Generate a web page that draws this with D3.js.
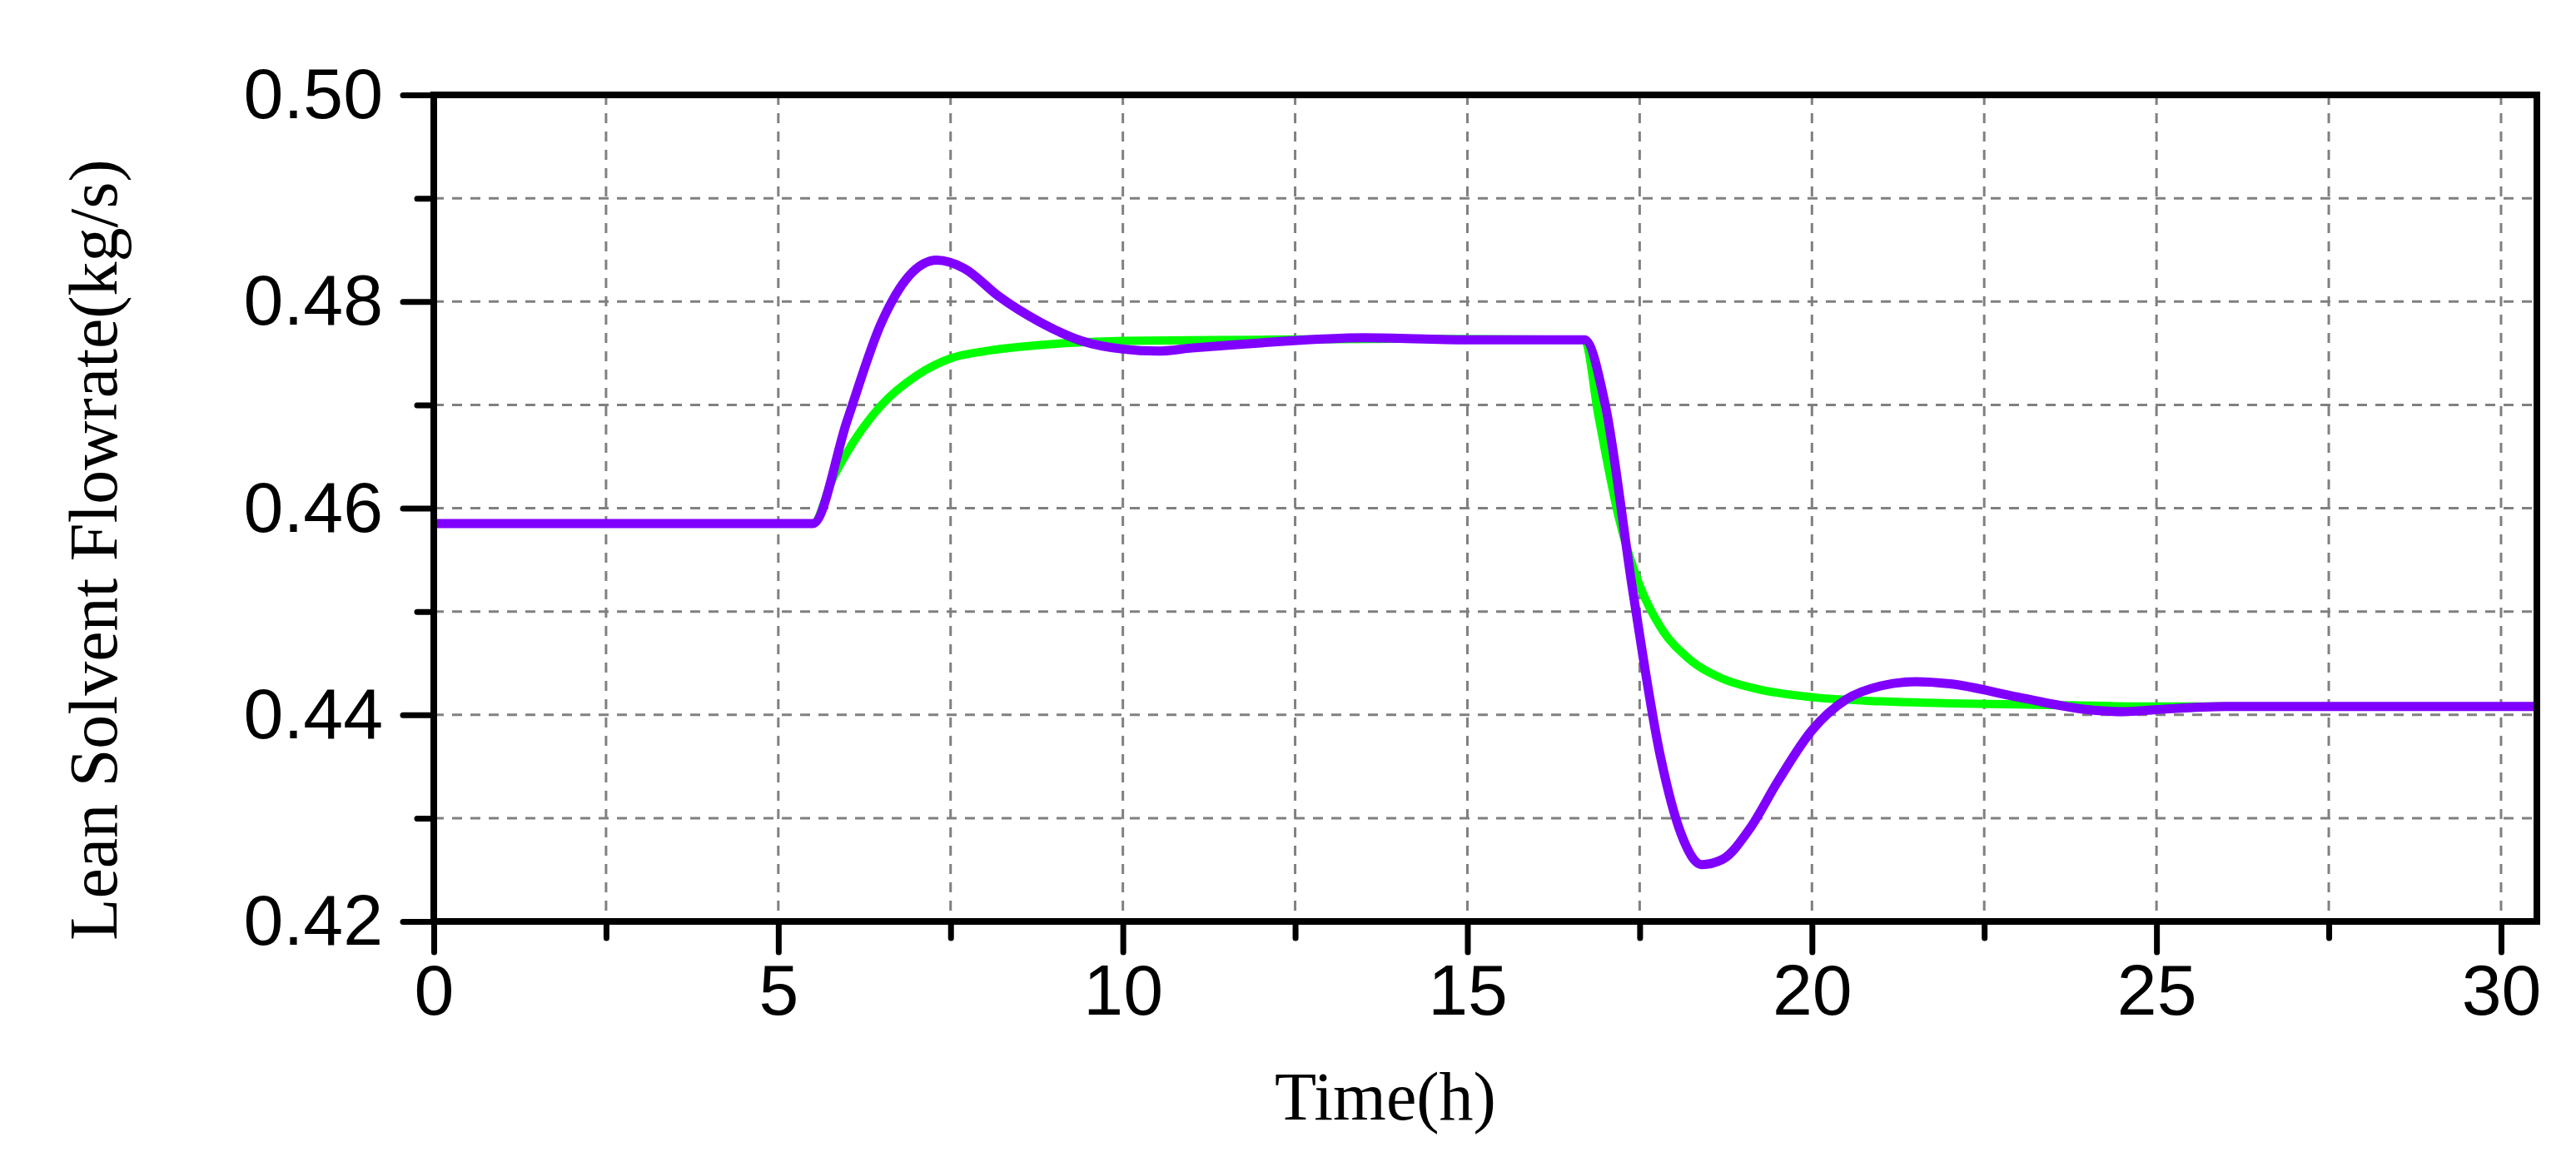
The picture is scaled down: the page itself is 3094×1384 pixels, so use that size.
<!DOCTYPE html>
<html><head><meta charset="utf-8">
<script src="https://cdn.jsdelivr.net/npm/d3@7"></script>
<style>body{margin:0;background:#fff}</style>
</head><body><div id="chart"></div>
<script>
// time (h) and flowrate (kg/s)
const greenT = [0, 5.5, 5.8, 6.1, 6.5, 7.0, 7.5, 8.0, 9.0, 10.0, 12.0, 14.0, 16.7, 16.9, 17.2, 17.5, 17.8, 18.2, 18.7, 19.2, 20.0, 21.0, 22.0, 23.0, 25.0, 30.5];
const greenV = [0.4585, 0.4585, 0.4630, 0.4665, 0.4700, 0.4728, 0.4745, 0.4752, 0.4759, 0.4762, 0.4763, 0.4764, 0.4763, 0.4690, 0.4590, 0.4525, 0.4485, 0.4455, 0.4435, 0.4425, 0.4417, 0.4413, 0.4411, 0.4410, 0.4408, 0.4408];
const purpleT = [0, 5.5, 6.0, 6.5, 6.9, 7.3, 7.7, 8.2, 8.8, 9.4, 10.0, 10.5, 11.0, 12.0, 13.5, 15.0, 16.7, 17.0, 17.4, 17.8, 18.1, 18.4, 18.7, 19.1, 19.5, 20.0, 20.5, 21.0, 21.5, 22.0, 23.0, 24.0, 24.5, 25.0, 26.0, 30.5];
const purpleV = [0.4585, 0.4585, 0.4685, 0.4780, 0.4825, 0.4840, 0.4832, 0.4805, 0.4780, 0.4762, 0.4754, 0.4752, 0.4755, 0.4760, 0.4765, 0.4763, 0.4763, 0.4700, 0.4520, 0.4360, 0.4285, 0.4255, 0.4260, 0.4290, 0.4335, 0.4385, 0.4415, 0.4428, 0.4432, 0.4430, 0.4417, 0.4405, 0.4403, 0.4405, 0.4408, 0.4408];
const xTicks = [0, 5, 10, 15, 20, 25, 30];
const yTicks = [0.42, 0.44, 0.46, 0.48, 0.50];

const W = 3094, H = 1384;
const m = {left: 521, right: 3047, top: 114, bottom: 1107};
const x = d3.scaleLinear().domain([0, 30.52]).range([m.left, m.right]);
const y = d3.scaleLinear().domain([0.42, 0.50]).range([m.bottom, m.top]);

const svg = d3.select('#chart').append('svg').attr('width', W).attr('height', H)
  .style('font-family', '"Liberation Serif", "Times New Roman", serif');

// grid
const gx = d3.range(2.5, 30.1, 2.5), gy = d3.range(0.43, 0.495, 0.01);
svg.append('g').selectAll('line').data(gx).join('line')
  .attr('x1', d => x(d)).attr('x2', d => x(d)).attr('y1', m.top).attr('y2', m.bottom)
  .attr('stroke', '#808080').attr('stroke-width', 3).attr('stroke-dasharray', '12,10');
svg.append('g').selectAll('line').data(gy).join('line')
  .attr('y1', d => y(d)).attr('y2', d => y(d)).attr('x1', m.left).attr('x2', m.right)
  .attr('stroke', '#808080').attr('stroke-width', 3).attr('stroke-dasharray', '12,10');

// lines
const line = d3.line().curve(d3.curveMonotoneX);
svg.append('path').attr('d', line(greenT.map((t, i) => [x(t), y(greenV[i])])))
  .attr('fill', 'none').attr('stroke', '#00ff00').attr('stroke-width', 10);
svg.append('path').attr('d', line(purpleT.map((t, i) => [x(t), y(purpleV[i])])))
  .attr('fill', 'none').attr('stroke', '#8000ff').attr('stroke-width', 11);

// frame
svg.append('rect').attr('x', m.left).attr('y', m.top).attr('width', m.right - m.left).attr('height', m.bottom - m.top)
  .attr('fill', 'none').attr('stroke', '#000').attr('stroke-width', 8);

// x axis
const xa = d3.axisBottom(x).tickValues(xTicks).tickSize(37).tickPadding(14).tickFormat(d3.format('d'));
const gxa = svg.append('g').attr('transform', `translate(0,${m.bottom})`).call(xa);
gxa.select('.domain').remove();
gxa.selectAll('line').attr('stroke-width', 7).attr('stroke-linecap', 'round');
gxa.selectAll('text').attr('font-size', 86).attr('fill', '#000').attr('font-family', null);
svg.append('g').attr('transform', `translate(0,${m.bottom})`).call(d3.axisBottom(x).tickValues(d3.range(2.5, 30, 5)).tickSize(20).tickFormat(''))
  .call(g => g.select('.domain').remove()).selectAll('line').attr('stroke-width', 7).attr('stroke-linecap', 'round');

// y axis
const ya = d3.axisLeft(y).tickValues(yTicks).tickSize(37).tickPadding(24).tickFormat(d3.format('.2f'));
const gya = svg.append('g').attr('transform', `translate(${m.left},0)`).call(ya);
gya.select('.domain').remove();
gya.selectAll('line').attr('stroke-width', 7).attr('stroke-linecap', 'round');
gya.selectAll('text').attr('font-size', 86).attr('fill', '#000').attr('font-family', null);
svg.append('g').attr('transform', `translate(${m.left},0)`).call(d3.axisLeft(y).tickValues(d3.range(0.43, 0.495, 0.02)).tickSize(20).tickFormat(''))
  .call(g => g.select('.domain').remove()).selectAll('line').attr('stroke-width', 7).attr('stroke-linecap', 'round');

// titles
svg.append('text').attr('x', (m.left + m.right) / 2 - 120).attr('y', 1345).attr('text-anchor', 'middle')
  .attr('font-size', 82).text('Time(h)');
svg.append('text').attr('transform', `translate(140,${(m.top + m.bottom) / 2 + 50}) rotate(-90)`)
  .attr('text-anchor', 'middle').attr('font-size', 82).text('Lean Solvent Flowrate(kg/s)');
</script></body></html>
